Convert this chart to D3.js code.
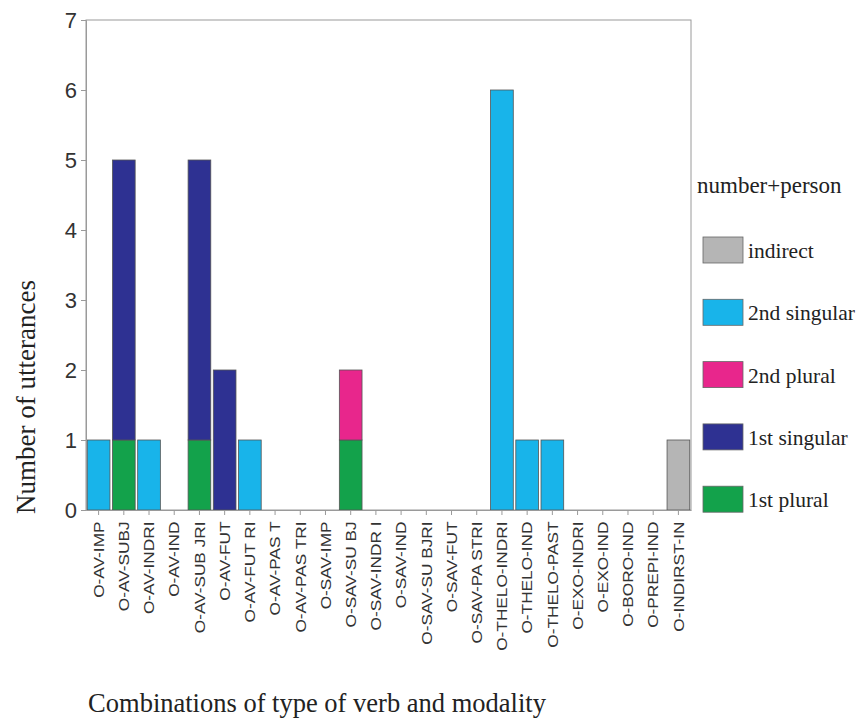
<!DOCTYPE html>
<html><head><meta charset="utf-8">
<script src="https://cdn.jsdelivr.net/npm/d3@7"></script>
<style>body{margin:0;background:#fff;}svg{display:block;}</style>
</head><body>
<svg id="c" width="861" height="727"></svg>
<script>
const categories = ["O-AV-IMP","O-AV-SUBJ","O-AV-INDRI","O-AV-IND","O-AV-SUB JRI","O-AV-FUT","O-AV-FUT RI","O-AV-PAS T","O-AV-PAS TRI","O-SAV-IMP","O-SAV-SU BJ","O-SAV-INDR I","O-SAV-IND","O-SAV-SU BJRI","O-SAV-FUT","O-SAV-PA STRI","O-THELO-INDRI","O-THELO-IND","O-THELO-PAST","O-EXO-INDRI","O-EXO-IND","O-BORO-IND","O-PREPI-IND","O-INDIRST-IN"];
const firstPlural   = [0,1,0,0,1,0,0,0,0,0,1,0,0,0,0,0,0,0,0,0,0,0,0,0];
const firstSingular = [0,4,0,0,4,2,0,0,0,0,0,0,0,0,0,0,0,0,0,0,0,0,0,0];
const secondPlural  = [0,0,0,0,0,0,0,0,0,0,1,0,0,0,0,0,0,0,0,0,0,0,0,0];
const secondSingular= [1,0,1,0,0,0,1,0,0,0,0,0,0,0,0,0,6,1,1,0,0,0,0,0];
const indirect      = [0,0,0,0,0,0,0,0,0,0,0,0,0,0,0,0,0,0,0,0,0,0,0,1];
const seriesNames = ["1st plural","1st singular","2nd plural","2nd singular","indirect"];
const seriesColors = ["#13a24b","#2e3192","#e8268c","#18b4ea","#b5b5b5"];
const yTicks = [0,1,2,3,4,5,6,7];

const seriesValues = [firstPlural, firstSingular, secondPlural, secondSingular, indirect];
const table = categories.map((c,i)=>{const o={cat:c}; seriesNames.forEach((s,k)=>o[s]=seriesValues[k][i]); return o;});
const stacked = d3.stack().keys(seriesNames)(table);

const svg = d3.select("#c");
const m = {l:86, r:691, t:20, b:510};
const x = d3.scaleBand().domain(categories).range([m.l, m.r]).paddingInner(0.1).paddingOuter(0.05);
const y = d3.scaleLinear().domain([0,7]).range([m.b, m.t]);

svg.append("rect").attr("x",m.l).attr("y",m.t).attr("width",m.r-m.l).attr("height",m.b-m.t)
  .attr("fill","none").attr("stroke","#9a9a9a").attr("stroke-width",1);

svg.append("g").selectAll("g").data(stacked).join("g")
  .attr("fill",(d,i)=>seriesColors[i])
  .selectAll("rect").data(d=>d.filter(p=>p[1]-p[0]>0)).join("rect")
  .attr("x",d=>x(d.data.cat)).attr("width",x.bandwidth())
  .attr("y",d=>y(d[1])).attr("height",d=>y(d[0])-y(d[1]))
  .attr("stroke","#555").attr("stroke-width",0.8);

const ya = svg.append("g").attr("transform",`translate(${m.l},0)`)
  .call(d3.axisLeft(y).tickValues(yTicks).tickFormat(d3.format("d")).tickSize(5).tickPadding(4));
ya.select(".domain").attr("stroke","#9a9a9a");
ya.selectAll(".tick line").attr("stroke","#9a9a9a");
ya.selectAll("text").attr("font-family","Liberation Sans, Arial, sans-serif").attr("font-size",22).attr("fill","#333");

const xa = svg.append("g").attr("transform",`translate(0,${m.b})`)
  .call(d3.axisBottom(x).tickSize(5).tickSizeOuter(0).tickPadding(4));
xa.select(".domain").attr("stroke","#9a9a9a");
xa.selectAll(".tick line").attr("stroke","#9a9a9a");
xa.selectAll("text").attr("font-family","Liberation Sans, Arial, sans-serif").attr("font-size",15).attr("fill","#333")
  .attr("transform","rotate(-90) scale(1.15,1)").attr("text-anchor","end").attr("dy","0.35em").attr("x",-10).attr("y",0);

svg.append("text").attr("transform","translate(35,397) rotate(-90)").attr("text-anchor","middle")
  .attr("font-family","Liberation Serif, Times New Roman, serif").attr("font-size",27).attr("fill","#222")
  .text("Number of utterances");
svg.append("text").attr("x",317).attr("y",712).attr("text-anchor","middle")
  .attr("font-family","Liberation Serif, Times New Roman, serif").attr("font-size",26.5).attr("fill","#222")
  .text("Combinations of type of verb and modality");

const lg = svg.append("g");
lg.append("text").attr("x",697).attr("y",193).attr("font-family","Liberation Serif, Times New Roman, serif")
  .attr("font-size",23).attr("fill","#222").text("number+person");
const legendOrder = ["indirect","2nd singular","2nd plural","1st singular","1st plural"];
legendOrder.forEach((name,i)=>{
  const k = seriesNames.indexOf(name);
  const yy = 237 + i*62.3;
  lg.append("rect").attr("x",703).attr("y",yy).attr("width",40).attr("height",26)
    .attr("fill",seriesColors[k]).attr("stroke","#666").attr("stroke-width",0.8);
  lg.append("text").attr("x",748).attr("y",yy+21).attr("font-family","Liberation Serif, Times New Roman, serif")
    .attr("font-size",21.5).attr("fill","#222").text(name);
});
</script>
</body></html>
